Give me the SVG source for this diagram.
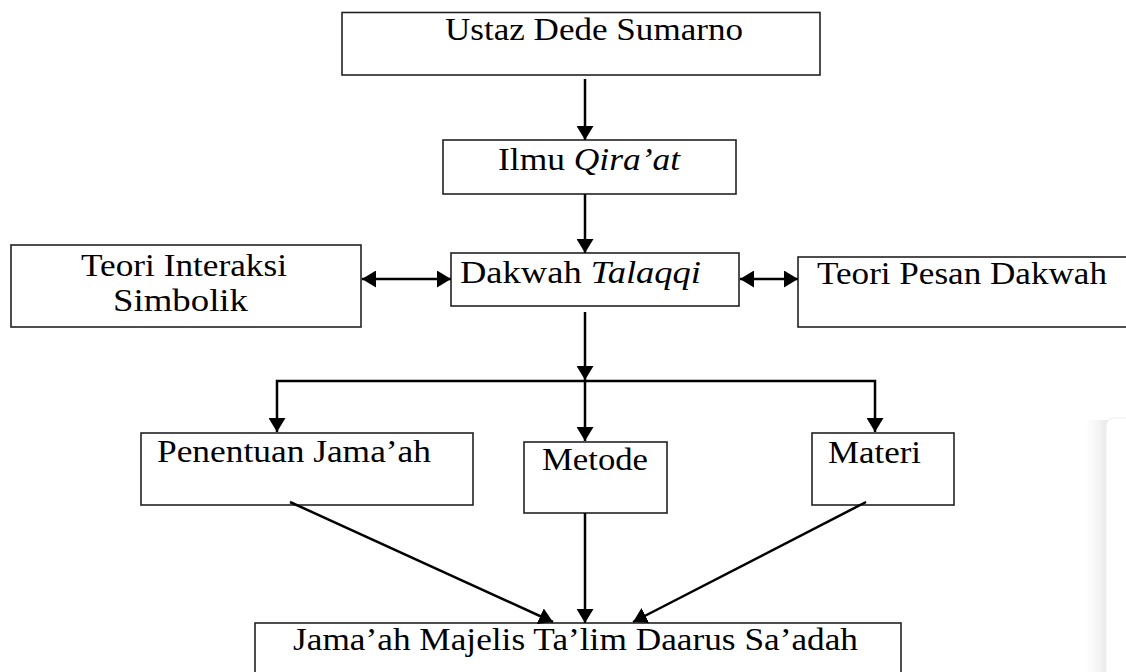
<svg xmlns="http://www.w3.org/2000/svg" width="1126" height="672" viewBox="0 0 1126 672">
<defs>
<style>
.box{fill:#fff;stroke:#222;stroke-width:1.6}
.t{font-family:'Liberation Serif','DejaVu Serif',serif;font-size:31px;fill:#000}
.i{font-style:italic}
.c{fill:none;stroke:#000;stroke-width:2.5}
</style>
<marker id="ah" viewBox="0 0 14 17" refX="14" refY="8.5" markerWidth="14" markerHeight="17" markerUnits="userSpaceOnUse" orient="auto-start-reverse">
<path d="M0,0 L14,8.5 L0,17 z" fill="#000"/>
</marker>
<linearGradient id="sh" x1="0" y1="0" x2="1" y2="0">
<stop offset="0" stop-color="#fff" stop-opacity="0"/>
<stop offset="1" stop-color="#e6e6e6"/>
</linearGradient>
</defs>
<rect width="1126" height="672" fill="#fff"/>
<g id="panel">
<rect x="1080" y="420" width="28" height="252" fill="url(#sh)"/>
<rect x="1106" y="418" width="40" height="270" rx="8" fill="#fff" stroke="#eeeeee" stroke-width="1"/>
</g>
<g id="n-ustaz"><rect class="box" x="342" y="12.5" width="478" height="62.5"/><text class="t" x="445" y="40" textLength="298" lengthAdjust="spacingAndGlyphs">Ustaz Dede Sumarno</text></g>
<g id="n-ilmu"><rect class="box" x="443" y="140" width="293" height="54"/><text class="t" x="498" y="170" textLength="182" lengthAdjust="spacingAndGlyphs">Ilmu <tspan class="i">Qira’at</tspan></text></g>
<g id="n-teori-interaksi"><rect class="box" x="11" y="245" width="350" height="82"/><text class="t" x="81" y="276" textLength="206" lengthAdjust="spacingAndGlyphs">Teori Interaksi</text><text class="t" x="113" y="311" textLength="135" lengthAdjust="spacingAndGlyphs">Simbolik</text></g>
<g id="n-dakwah"><rect class="box" x="451" y="253" width="288" height="53"/><text class="t" x="460" y="283" textLength="241" lengthAdjust="spacingAndGlyphs">Dakwah <tspan class="i">Talaqqi</tspan></text></g>
<g id="n-pesan"><rect class="box" x="798" y="257" width="330" height="70"/><text class="t" x="817" y="284" textLength="290" lengthAdjust="spacingAndGlyphs">Teori Pesan Dakwah</text></g>
<g id="n-penentuan"><rect class="box" x="141" y="433" width="332" height="72"/><text class="t" x="157" y="462" textLength="274" lengthAdjust="spacingAndGlyphs">Penentuan Jama’ah</text></g>
<g id="n-metode"><rect class="box" x="524" y="442" width="143" height="71"/><text class="t" x="542" y="470" textLength="106" lengthAdjust="spacingAndGlyphs">Metode</text></g>
<g id="n-materi"><rect class="box" x="812" y="433" width="142" height="72"/><text class="t" x="828" y="463" textLength="93" lengthAdjust="spacingAndGlyphs">Materi</text></g>
<g id="n-jamaah"><rect class="box" x="255" y="623" width="646" height="70"/><text class="t" x="293" y="650" textLength="565" lengthAdjust="spacingAndGlyphs">Jama’ah Majelis Ta’lim Daarus Sa’adah</text></g>
<g id="connectors">
<path class="c" d="M585,79 V140" marker-end="url(#ah)"/>
<path class="c" d="M585,194 V253" marker-end="url(#ah)"/>
<path class="c" d="M362,279 H451" marker-start="url(#ah)" marker-end="url(#ah)"/>
<path class="c" d="M740,279 H798" marker-start="url(#ah)" marker-end="url(#ah)"/>
<path class="c" d="M585,312 V380" marker-end="url(#ah)"/>
<path class="c" d="M277,432 V381 H875 V432" marker-start="url(#ah)" marker-end="url(#ah)"/>
<path class="c" d="M585,381 V441" marker-end="url(#ah)"/>
<path class="c" d="M585,513 V623" marker-end="url(#ah)"/>
<path class="c" d="M290,502 L553,622" marker-end="url(#ah)"/>
<path class="c" d="M866,502 L633,622" marker-end="url(#ah)"/>
</g>
</svg>
